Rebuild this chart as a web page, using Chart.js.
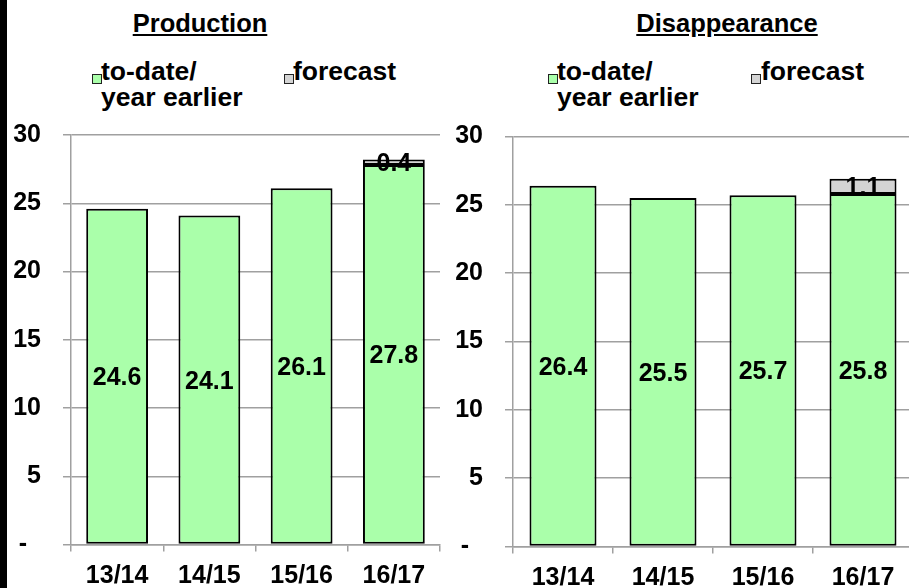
<!DOCTYPE html>
<html>
<head>
<meta charset="utf-8">
<script src="https://cdn.jsdelivr.net/npm/chart.js@4/dist/chart.umd.min.js"></script>
<style>
  html, body { margin:0; padding:0; background:#fff; }
  body { width:909px; height:588px; position:relative; overflow:hidden;
         font-family:"Liberation Sans", Arial, sans-serif; font-weight:bold; color:#000; }
  .strip { position:absolute; left:0; top:0; width:7px; height:588px; background:#000; }
  .title { position:absolute; top:8px; font-size:25.5px; line-height:30px; text-decoration:underline;
           transform:translateX(-50%); white-space:nowrap; }
  .leg { position:absolute; font-size:26.5px; line-height:26px; white-space:nowrap; }
  .sq { position:absolute; width:8px; height:8px; border:1px solid #222; }
  canvas { position:absolute; top:0; }
</style>
</head>
<body>
<div class="strip"></div>

<div class="title" style="left:200px">Production</div>
<div class="sq" style="left:92px;top:74px;background:#aaffaa"></div>
<div class="leg" style="left:101px;top:58px">to-date/<br>year earlier</div>
<div class="sq" style="left:284px;top:74px;background:#d4d4d4"></div>
<div class="leg" style="left:293px;top:58px">forecast</div>

<div class="title" style="left:727px">Disappearance</div>
<div class="sq" style="left:548px;top:74px;background:#aaffaa"></div>
<div class="leg" style="left:557px;top:58px">to-date/<br>year earlier</div>
<div class="sq" style="left:751px;top:74px;background:#d4d4d4"></div>
<div class="leg" style="left:761px;top:58px">forecast</div>

<canvas id="prod" width="450" height="588" style="left:0"></canvas>
<canvas id="disp" width="470" height="588" style="left:450px"></canvas>

<script>
// === DATA ===
const years = ['13/14', '14/15', '15/16', '16/17'];
const prodToDate   = [24.6, 24.1, 26.1, 27.8];
const prodForecast = [null, null, null, 0.4];
const dispToDate   = [26.4, 25.5, 25.7, 25.8];
const dispForecast = [null, null, null, 1.1];
const yTicks = [0, 5, 10, 15, 20, 25, 30];

const GREEN = '#aaffaa', GREY = '#d4d4d4', GRID = '#a0a0a0';
const FONT = {family:'"Liberation Sans", Arial, sans-serif', size:25, weight:'bold'};

// value labels in the middle of each bar segment
const barLabels = {
  id:'barLabels',
  afterDatasetsDraw(chart) {
    const ctx = chart.ctx;
    ctx.save();
    ctx.font = `bold ${FONT.size}px ${FONT.family}`;
    ctx.fillStyle = '#000';
    ctx.textAlign = 'center';
    ctx.textBaseline = 'middle';
    chart.data.datasets.forEach((ds, i) => {
      chart.getDatasetMeta(i).data.forEach((el, j) => {
        const v = ds.data[j];
        if (v == null) return;
        const p = el.getProps(['x', 'y', 'base'], true);
        ctx.fillText(v.toFixed(1), p.x, (p.y + p.base) / 2 + 2);
      });
    });
    ctx.restore();
  }
};

function mkPanel(canvasId, toDate, forecast, geo) {
  const canvas = document.getElementById(canvasId);
  return new Chart(canvas, {
    type:'bar',
    data:{labels:years, datasets:[
      {label:'to-date/ year earlier', data:toDate, backgroundColor:GREEN,
       borderColor:'#000', borderWidth:2, borderSkipped:false,
       categoryPercentage:1, barPercentage:0.67},
      {label:'forecast', data:forecast, backgroundColor:GREY,
       borderColor:'#000', borderWidth:2, borderSkipped:false,
       categoryPercentage:1, barPercentage:0.67}
    ]},
    options:{responsive:false, animation:false,
      layout:{padding:{top:geo.top, right:geo.right, left:0, bottom:0}},
      plugins:{legend:{display:false}, tooltip:{enabled:false}},
      scales:{
        x:{stacked:true,
          grid:{offset:true, drawOnChartArea:false, drawTicks:true, tickLength:7, color:GRID, lineWidth:1.5},
          border:{display:true, color:GRID, width:1.5},
          ticks:{color:'#000', font:FONT, padding:10, maxRotation:0},
          afterFit:s => { s.height = geo.xh; }},
        y:{stacked:true, min:0, max:30,
          afterBuildTicks:s => { s.ticks = yTicks.map(v => ({value:v})); },
          grid:{color:GRID, lineWidth:1.5, tickLength:8},
          border:{display:true, color:GRID, width:1.5},
          ticks:{color:'#000', font:FONT, padding:22,
            callback:v => v === 0 ? '-  ' : v},
          afterFit:s => { s.width = geo.yw; }}
      }},
    plugins:[barLabels]
  });
}

mkPanel('prod', prodToDate, prodForecast, {top:135, right:10, xh:43.5, yw:71});
mkPanel('disp', dispToDate, dispForecast, {top:136.5, right:7, xh:41.5, yw:63});
</script>
</body>
</html>
